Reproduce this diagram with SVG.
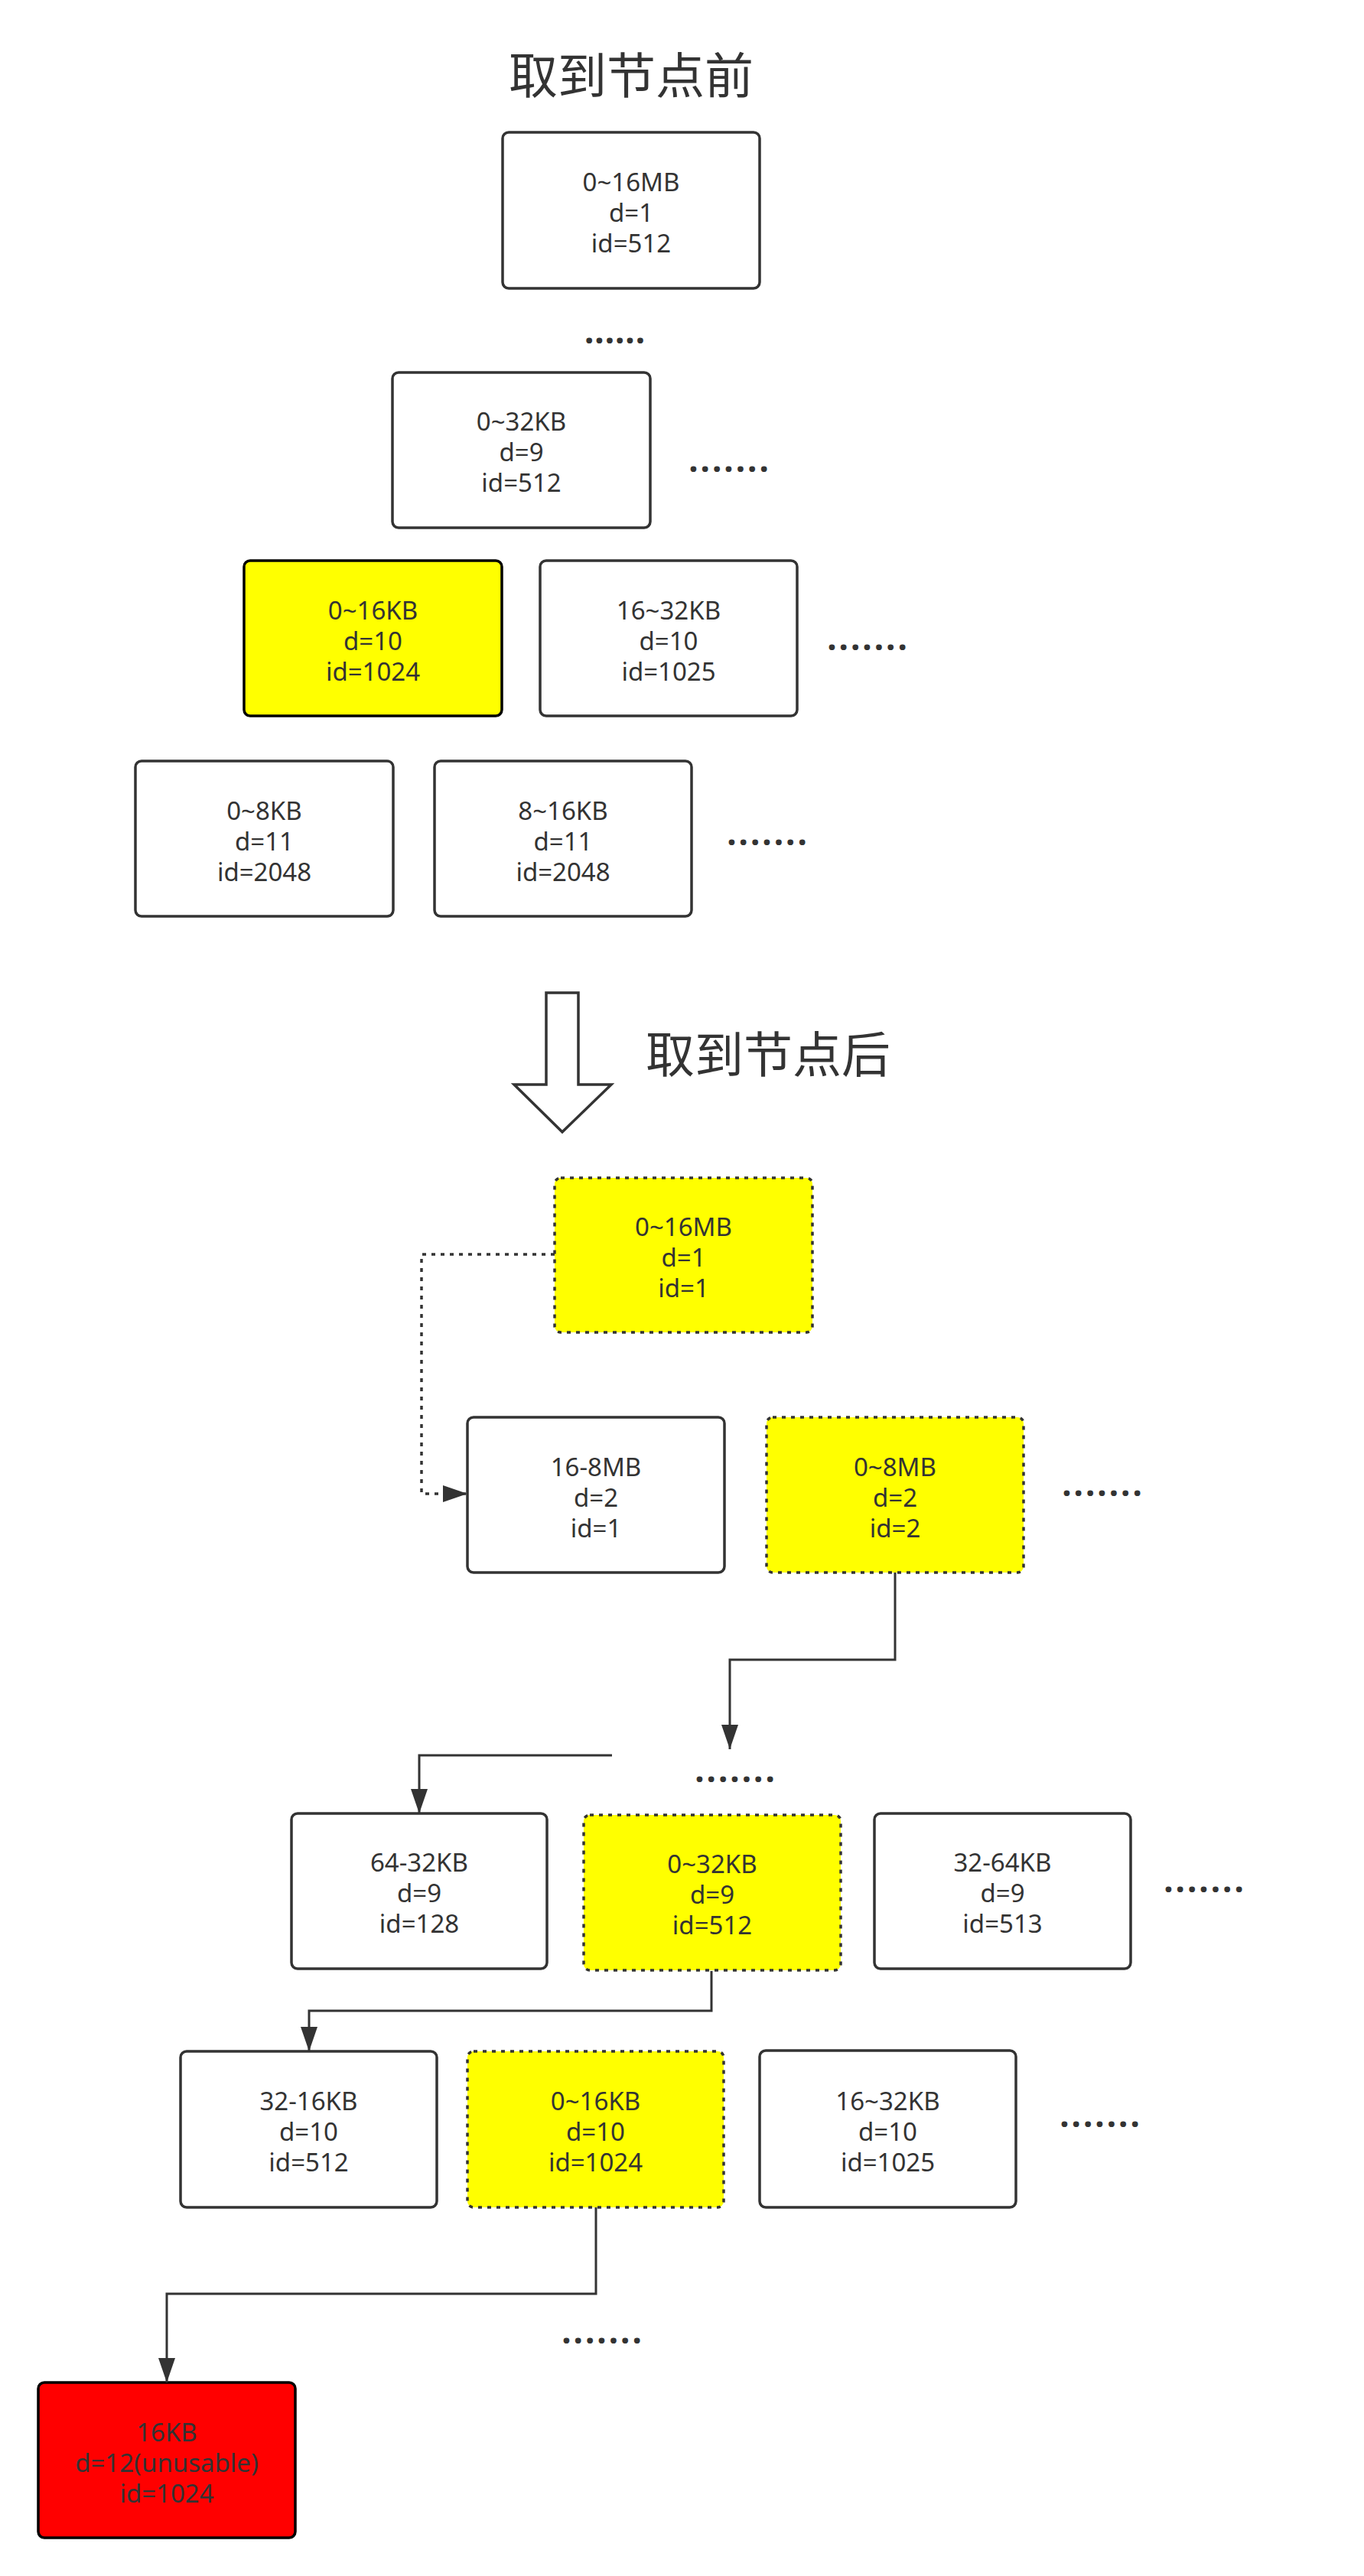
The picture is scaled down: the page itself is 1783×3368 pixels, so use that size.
<svg xmlns="http://www.w3.org/2000/svg" width="1783" height="3368" viewBox="0 0 1783 3368">
<style>
.bg{fill:#ffffff}
.box{fill:#ffffff;stroke:#333333;stroke-width:3.5}
.hl{fill:#ffff00;stroke:#000000;stroke-width:3.5}
.dot{fill:#ffff00;stroke:#333333;stroke-width:3.5;stroke-dasharray:5 7}
.red{fill:#ff0000;stroke:#000000;stroke-width:3.5}
.t{font-family:"Noto Sans","Open Sans","Noto Sans CJK SC",sans-serif;font-size:33px;fill:#333333;text-anchor:middle}
.title{font-family:"Noto Sans CJK SC","Noto Sans",sans-serif;font-size:64px;fill:#333333;text-anchor:middle}
.dots{font-family:"Noto Sans",sans-serif;font-weight:bold;font-size:44px;fill:#333333;text-anchor:middle}
.d7{letter-spacing:3px}
.d6{letter-spacing:1px}
.ln{fill:none;stroke:#333333;stroke-width:3}
.lnd{fill:none;stroke:#333333;stroke-width:3.5;stroke-dasharray:5 7}
</style>
<defs>
<marker id="arr" markerUnits="userSpaceOnUse" markerWidth="32" markerHeight="22" refX="32" refY="11" orient="auto" viewBox="0 0 32 22">
<path d="M0,0 L32,11 L0,22 z" fill="#333333"/>
</marker>
</defs>
<rect class="bg" x="0" y="0" width="1783" height="3368"/>

<g id="title-before"><text class="title" x="825" y="122">取到节点前</text></g>

<g id="n-top-16mb"><rect class="box" x="657" y="173" width="336" height="204" rx="8"/>
<text class="t" x="825" y="250">0~16MB</text><text class="t" x="825" y="290">d=1</text><text class="t" x="825" y="330">id=512</text></g>

<g id="dots1"><text class="dots d6" x="804" y="449">......</text></g>

<g id="n-top-32kb"><rect class="box" x="513" y="487" width="337" height="203" rx="8"/>
<text class="t" x="681.5" y="563">0~32KB</text><text class="t" x="681.5" y="603">d=9</text><text class="t" x="681.5" y="643">id=512</text></g>

<g id="dots2"><text class="dots d7" x="954" y="617">.......</text></g>

<g id="n-top-0-16kb"><rect class="hl" x="319" y="733" width="337" height="203" rx="8"/>
<text class="t" x="487.5" y="810">0~16KB</text><text class="t" x="487.5" y="850">d=10</text><text class="t" x="487.5" y="890">id=1024</text></g>

<g id="n-top-16-32kb"><rect class="box" x="706" y="733" width="336" height="203" rx="8"/>
<text class="t" x="874" y="810">16~32KB</text><text class="t" x="874" y="850">d=10</text><text class="t" x="874" y="890">id=1025</text></g>

<g id="dots3"><text class="dots d7" x="1135" y="850">.......</text></g>

<g id="n-top-0-8kb"><rect class="box" x="177" y="995" width="337" height="203" rx="8"/>
<text class="t" x="345.5" y="1072">0~8KB</text><text class="t" x="345.5" y="1112">d=11</text><text class="t" x="345.5" y="1152">id=2048</text></g>

<g id="n-top-8-16kb"><rect class="box" x="568" y="995" width="336" height="203" rx="8"/>
<text class="t" x="736" y="1072">8~16KB</text><text class="t" x="736" y="1112">d=11</text><text class="t" x="736" y="1152">id=2048</text></g>

<g id="dots4"><text class="dots d7" x="1004" y="1105">.......</text></g>

<g id="big-arrow"><polygon points="714,1298 756,1298 756,1418 799,1418 735,1480 672,1418 714,1418" fill="#ffffff" stroke="#333333" stroke-width="3.5" stroke-linejoin="miter"/></g>

<g id="title-after"><text class="title" x="1004" y="1402">取到节点后</text></g>

<g id="n-16mb"><rect class="dot" x="725" y="1540" width="337" height="202" rx="8"/>
<text class="t" x="893.5" y="1616">0~16MB</text><text class="t" x="893.5" y="1656">d=1</text><text class="t" x="893.5" y="1696">id=1</text></g>

<g id="n-16-8mb"><rect class="box" x="611" y="1853" width="336" height="203" rx="8"/>
<text class="t" x="779" y="1930">16-8MB</text><text class="t" x="779" y="1970">d=2</text><text class="t" x="779" y="2010">id=1</text></g>

<g id="n-0-8mb"><rect class="dot" x="1002" y="1853" width="336" height="203" rx="8"/>
<text class="t" x="1170" y="1930">0~8MB</text><text class="t" x="1170" y="1970">d=2</text><text class="t" x="1170" y="2010">id=2</text></g>

<g id="dots5"><text class="dots d7" x="1442" y="1956">.......</text></g>

<g id="dots6"><text class="dots d7" x="962" y="2330">.......</text></g>

<g id="n-64-32kb"><rect class="box" x="381" y="2371" width="334" height="203" rx="8"/>
<text class="t" x="548" y="2447">64-32KB</text><text class="t" x="548" y="2487">d=9</text><text class="t" x="548" y="2527">id=128</text></g>

<g id="n-0-32kb"><rect class="dot" x="763" y="2373" width="336" height="203" rx="8"/>
<text class="t" x="931" y="2449">0~32KB</text><text class="t" x="931" y="2489">d=9</text><text class="t" x="931" y="2529">id=512</text></g>

<g id="n-32-64kb"><rect class="box" x="1143" y="2371" width="335" height="203" rx="8"/>
<text class="t" x="1310.5" y="2447">32-64KB</text><text class="t" x="1310.5" y="2487">d=9</text><text class="t" x="1310.5" y="2527">id=513</text></g>

<g id="dots7"><text class="dots d7" x="1575" y="2474">.......</text></g>

<g id="n-32-16kb"><rect class="box" x="236" y="2682" width="335" height="204" rx="8"/>
<text class="t" x="403.5" y="2759">32-16KB</text><text class="t" x="403.5" y="2799">d=10</text><text class="t" x="403.5" y="2839">id=512</text></g>

<g id="n-0-16kb"><rect class="dot" x="611" y="2682" width="335" height="204" rx="8"/>
<text class="t" x="778.5" y="2759">0~16KB</text><text class="t" x="778.5" y="2799">d=10</text><text class="t" x="778.5" y="2839">id=1024</text></g>

<g id="n-16-32kb"><rect class="box" x="993" y="2681" width="335" height="205" rx="8"/>
<text class="t" x="1160.5" y="2759">16~32KB</text><text class="t" x="1160.5" y="2799">d=10</text><text class="t" x="1160.5" y="2839">id=1025</text></g>

<g id="dots8"><text class="dots d7" x="1439" y="2781">.......</text></g>

<g id="dots9"><text class="dots d7" x="788" y="3064">.......</text></g>

<g id="n-16kb-unusable"><rect class="red" x="50" y="3115" width="336" height="203" rx="8"/>
<text class="t" x="218" y="3192">16KB</text><text class="t" x="218" y="3232">d=12(unusable)</text><text class="t" x="218" y="3272">id=1024</text></g>

<g id="connectors">
<path class="lnd" d="M725,1640 H551 V1953 H611" marker-end="url(#arr)"/>
<path class="ln" d="M1170,2056 V2170 H954 V2287" marker-end="url(#arr)"/>
<path class="ln" d="M800,2295 H548 V2371" marker-end="url(#arr)"/>
<path class="ln" d="M930,2577 V2629 H404 V2682" marker-end="url(#arr)"/>
<path class="ln" d="M779,2886 V2999 H218 V3115" marker-end="url(#arr)"/>
</g>
</svg>
